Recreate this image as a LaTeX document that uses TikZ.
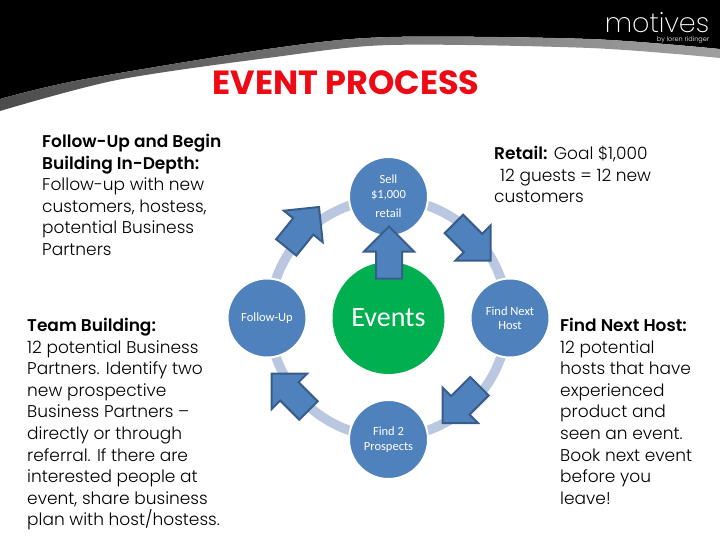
\documentclass[tikz,border=0pt]{standalone}
\usepackage{fontspec}
\usepackage{tikz}
\usetikzlibrary{positioning,shapes.arrows}
\setmainfont{Poppins}[UprightFont=* Light,BoldFont=* SemiBold]
\newfontfamily\titlefont{Poppins}[UprightFont=* Bold]
\newfontfamily\logofont{Poppins}[UprightFont=* ExtraLight]
\newfontfamily\labelfont{Carlito}
\definecolor{stepblue}{HTML}{4F81BD}
\definecolor{arrowline}{HTML}{385D8A}
\definecolor{ringblue}{HTML}{B9C7E0}
\definecolor{eventgreen}{HTML}{00B050}
\definecolor{titlered}{HTML}{EE0A14}
\tikzset{
	stepdot/.style={circle, fill=stepblue, draw=white, line width=2pt, minimum size=79pt, inner sep=0pt, outer sep=0pt, text=white, align=center, font=\labelfont\fontsize{12.5}{14.5}\selectfont},
	blockarrow/.style={single arrow, fill=stepblue, draw=arrowline, line width=2pt, minimum width=48pt, minimum height=52pt, inner sep=12pt, single arrow head extend=12pt, outer sep=0pt, anchor=tip},
	sidetext/.style={anchor=north west, align=left, inner sep=0pt, font=\fontsize{17}{21.6}\selectfont},
}
\begin{document}
\begin{tikzpicture}[x=1pt,y=-1pt]
	\useasboundingbox (0,0) rectangle (720,540);
	\fill[black] (0,0) -- (720,0) -- plot[smooth] coordinates {(720,49) (590,39) (390,37) (275,48) (80,80) (0,99)} -- cycle;
	\shade[left color=gray!60!black, right color=gray!75] plot[smooth] coordinates {(0,99) (80,80) (275,48) (390,37) (590,39) (720,49)} -- plot[smooth] coordinates {(720,58) (590,48) (390,45) (275,57) (117,80) (0,111)} -- cycle;
	\node[text=white, inner sep=0pt, font=\logofont\fontsize{27}{27}\selectfont] (logo) at (657,23) {motives};
	\node[text=white, inner sep=0pt, below=3pt of logo.south east, anchor=north east, font=\fontsize{6.5}{7}\selectfont] (logoby) {by loren ridinger};
	\node[text=titlered, inner sep=0pt, font=\titlefont\fontsize{33.5}{33.5}\selectfont] (title) at (346,83) {EVENT PROCESS};

	\node[sidetext] (followtext) at (42,134) {\textbf{Follow-Up and Begin}\\\textbf{Building In-Depth:}\\Follow-up with new\\customers, hostess,\\potential Business\\Partners};
	\node[sidetext] (teamtext) at (27,318) {\textbf{Team Building:}\\12 potential Business\\Partners. Identify two\\new prospective\\Business Partners --\\directly or through\\referral. If there are\\interested people at\\event, share business\\plan with host/hostess.};
	\node[sidetext] (retailtext) at (494,146) {\textbf{Retail:} Goal \$1,000\\\hspace*{6pt}12 guests = 12 new\\customers};
	\node[sidetext] (hosttext) at (560,318) {\textbf{Find Next Host:}\\12 potential\\hosts that have\\experienced\\product and\\seen an event.\\Book next event\\before you\\leave!};

	\node[circle, draw=ringblue, line width=9.5pt, minimum size=238pt, inner sep=0pt] (ring) at (388.5,318) {};
	\node[circle, fill=eventgreen, minimum size=112pt, inner sep=0pt, outer sep=0pt, text=white, font=\labelfont\fontsize{28}{30}\selectfont] (events) at (ring) {Events};
	\node[stepdot, above=26pt of events] (sell) {Sell\\\$1,000\\[5pt]retail};
	\node[stepdot, right=26pt of events] (host) {Find Next\\Host};
	\node[stepdot, below=26pt of events] (prospects) {Find 2\\Prospects};
	\node[stepdot, left=26pt of events] (followup) {Follow-Up};

	\node[blockarrow, rotate=90] (arrowup) at (389,226.5) {};
	\node[blockarrow, rotate=-45] (arrowse) at (490.7,260.7) {};
	\node[blockarrow, rotate=-135] (arrowsw) at (442.7,423) {};
	\node[blockarrow, rotate=135] (arrownw) at (271.7,373.7) {};
	\node[blockarrow, rotate=51] (arrowne) at (319,207) {};
\end{tikzpicture}
\end{document}
